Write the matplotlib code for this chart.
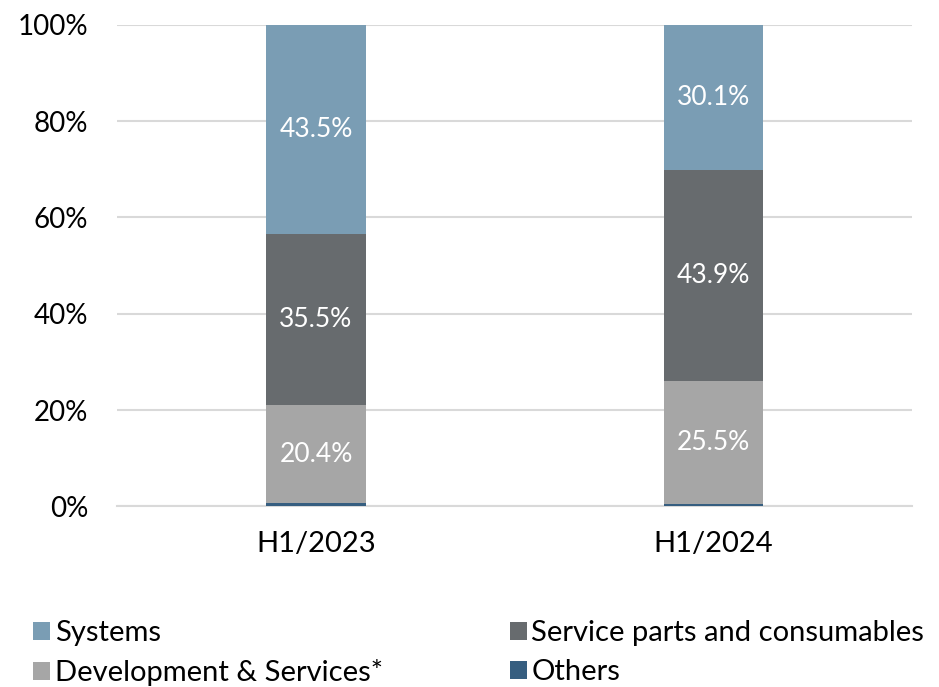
import numpy as np
import matplotlib.pyplot as plt
from matplotlib.ticker import PercentFormatter

plt.rcParams['font.family'] = ['Lato', 'DejaVu Sans']

periods = ['H1/2023', 'H1/2024']
others = [0.6, 0.5]
development = [20.4, 25.5]
service = [35.5, 43.9]
systems = [43.5, 30.1]

series = [
    ('Others', others, '#365E80'),
    ('Development & Services*', development, '#A6A6A6'),
    ('Service parts and consumables', service, '#676B6E'),
    ('Systems', systems, '#7A9DB4'),
]

fig = plt.figure(figsize=(9.39, 6.87), dpi=100)
ax = fig.add_axes([0.125, 0.263, 0.846, 0.701])

x = np.arange(len(periods))
bottom = np.zeros(len(periods))
bars = {}
for name, vals, color in series:
    b = ax.bar(x, vals, 0.25, bottom=bottom, color=color, label=name, zorder=3)
    bars[name] = b
    if name != 'Others':
        for xi, v, bt in zip(x, vals, bottom):
            ax.text(xi, bt + v / 2, f'{v:.1f}%', ha='center', va='center',
                    color='white', fontsize=19, zorder=4)
    bottom += np.array(vals)

ax.set_xlim(-0.5, 1.5)
ax.set_ylim(0, 100)
ax.set_yticks(range(0, 101, 20))
ax.yaxis.set_major_formatter(PercentFormatter(decimals=0))
ax.set_xticks(x)
ax.set_xticklabels(periods)
ax.tick_params(axis='both', length=0, colors='black')
ax.tick_params(axis='x', pad=18, labelsize=21)
ax.tick_params(axis='y', pad=21, labelsize=20)
ax.grid(axis='y', color='#D9D9D9', linewidth=1.5, zorder=0)
for s in ['top', 'right', 'left']:
    ax.spines[s].set_visible(False)
ax.spines['bottom'].set_color('#D9D9D9')
ax.spines['bottom'].set_linewidth(1.5)

handles = [bars['Systems'], bars['Development & Services*'],
           bars['Service parts and consumables'], bars['Others']]
labels = ['Systems', 'Development & Services*',
          'Service parts and consumables', 'Others']
fig.legend(handles, labels, ncol=2, loc='lower left', bbox_to_anchor=(0.007, -0.037),
           frameon=False, fontsize=21, handlelength=0.6, handleheight=0.6,
           handletextpad=0.15, columnspacing=4.35, labelspacing=0.45)

fig.savefig('out.png', dpi=100)
